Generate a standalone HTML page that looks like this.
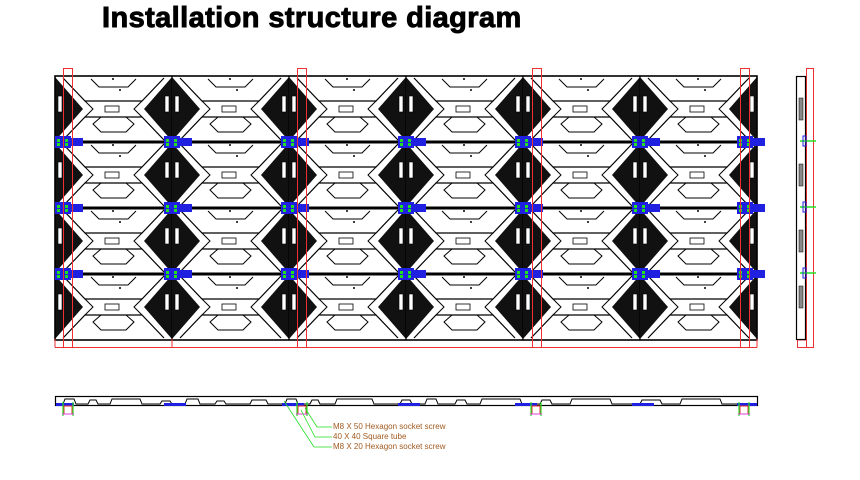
<!DOCTYPE html>
<html><head><meta charset="utf-8"><style>
html,body{margin:0;padding:0;background:#fff;}
body{width:860px;height:480px;overflow:hidden;position:relative;font-family:"Liberation Sans",sans-serif;}
.t{position:absolute;left:102px;top:2px;font-size:29px;font-weight:bold;color:#000;letter-spacing:0.4px;-webkit-text-stroke:0.9px #000;}
</style></head><body>
<div class="t">Installation structure diagram</div>
<svg width="860" height="480" style="position:absolute;left:0;top:0">
<defs>
<symbol id="m" width="117" height="66" viewBox="0 0 117 66" overflow="visible">
<rect x="0" y="0" width="117" height="66" fill="#fff" stroke="#000" stroke-width="1.2"/>
<polygon points="0,1 28,33 0,65" fill="#111"/>
<polygon points="117,1 89,33 117,65" fill="#111"/>
<rect x="3" y="20" width="4" height="16" fill="#fff" stroke="#000" stroke-width="0.6"/>
<rect x="110" y="20" width="4" height="16" fill="#fff" stroke="#000" stroke-width="0.6"/>
<polyline points="8,2 30,25 87,25 109,2" fill="none" stroke="#000" stroke-width="1.2"/>
<polyline points="36,3 44,11 73,11 81,3" fill="none" stroke="#000" stroke-width="1"/>
<polyline points="8,64 30,41 87,41 109,64" fill="none" stroke="#000" stroke-width="1.2"/>
<polygon points="38,48 46,41 71,41 79,48 71,56 46,56" fill="none" stroke="#000" stroke-width="1"/>
<polyline points="30,41 38,33 30,25" fill="none" stroke="#000" stroke-width="1"/>
<polyline points="87,41 79,33 87,25" fill="none" stroke="#000" stroke-width="1"/>
<rect x="50" y="30" width="14" height="6" fill="#fff" stroke="#000" stroke-width="0.8"/>
<circle cx="58" cy="3" r="1" fill="#000"/>
<circle cx="65" cy="14" r="1" fill="#000"/>
</symbol>
<symbol id="c" width="28" height="12" overflow="visible">
<rect x="0" y="0" width="16" height="12" fill="#2020e0"/>
<rect x="16" y="2" width="12" height="8" fill="#2020e0"/>
<rect x="2" y="3" width="3" height="3" fill="#20e020"/><rect x="2" y="7" width="3" height="3" fill="#20e020"/>
<rect x="10" y="3" width="3" height="3" fill="#20e020"/><rect x="10" y="7" width="3" height="3" fill="#20e020"/>
</symbol>
</defs>
<g>
<g id="row">
<use href="#m" x="55" y="76"/><use href="#m" x="172" y="76"/><use href="#m" x="289" y="76"/><use href="#m" x="406" y="76"/><use href="#m" x="523" y="76"/><use href="#m" x="640" y="76"/>
</g>
<use href="#row" y="66"/><use href="#row" y="132"/><use href="#row" y="198"/>
<rect x="55" y="76" width="702" height="264" fill="none" stroke="#000" stroke-width="1.5"/>
<rect x="55" y="140.5" width="702" height="3" fill="#000"/>
<rect x="55" y="206.5" width="702" height="3" fill="#000"/>
<rect x="55" y="272.5" width="702" height="3" fill="#000"/>
<g id="cr">
<use href="#c" x="55" y="136"/><use href="#c" x="164" y="136"/><use href="#c" x="281" y="136"/><use href="#c" x="398" y="136"/><use href="#c" x="515" y="136"/><use href="#c" x="632" y="136"/><use href="#c" x="737" y="136"/>
</g>
<use href="#cr" y="66"/><use href="#cr" y="132"/>
<g fill="none" stroke="#f03030" stroke-width="1">
<rect x="63.5" y="68.5" width="9" height="279"/>
<rect x="297.5" y="68.5" width="9" height="279"/>
<rect x="532.5" y="68.5" width="9" height="279"/>
<rect x="740.5" y="68.5" width="9" height="279"/>
<line x1="55" y1="347.5" x2="757" y2="347.5"/>
<line x1="55" y1="339" x2="55" y2="347.5"/><line x1="757" y1="339" x2="757" y2="347.5"/>
<line x1="172" y1="339" x2="172" y2="347.5"/>
<rect x="806.5" y="68.5" width="7" height="279"/>
<rect x="797.5" y="340" width="9" height="7.5"/>
</g>
<rect x="796.5" y="76.5" width="9" height="263" fill="#fff" stroke="#000" stroke-width="1.2"/>
<g fill="#888" stroke="#000" stroke-width="0.5">
<rect x="799" y="98" width="4" height="22"/><rect x="799" y="164" width="4" height="22"/>
<rect x="799" y="230" width="4" height="22"/><rect x="799" y="286" width="4" height="22"/>
</g>
<g stroke="#20e020" stroke-width="1.5">
<line x1="800" y1="141" x2="816" y2="141"/><line x1="800" y1="207" x2="816" y2="207"/><line x1="800" y1="273" x2="816" y2="273"/>
</g>
<g fill="none" stroke="#2020e0"><rect x="803" y="136" width="3" height="10"/><rect x="803" y="202" width="3" height="10"/><rect x="803" y="268" width="3" height="10"/></g>
<rect x="55.5" y="396.5" width="702" height="9" fill="#fff" stroke="#000" stroke-width="1.2"/>
<polyline points="56,404 63,404 65,399 74,399 76,404 88,404 90,400 96,400 98,404 110,404 112,399 140,399 142,404 160,404 162,401 170,401 172,404 185,404 187,399 198,399 200,404 215,404 217,401 224,401 226,404 250,404 252,400 266,400 268,404 285,404 287,399 296,399 298,404 310,404 312,400 318,400 320,404 335,404 337,399 372,399 374,404 400,404 402,400 410,400 412,404 425,404 427,399 436,399 438,404 455,404 457,400 465,400 467,404 480,404 482,399 520,399 522,404 540,404 542,400 550,400 552,404 570,404 572,399 610,399 612,404 640,404 642,400 660,400 662,404 680,404 682,399 720,399 722,404 756,404" fill="none" stroke="#000" stroke-width="1"/>
<g fill="#2020e0">
<rect x="56" y="403" width="18" height="3"/><rect x="164" y="403" width="22" height="3"/><rect x="282" y="403" width="22" height="3"/><rect x="398" y="403" width="22" height="3"/><rect x="515" y="403" width="22" height="3"/><rect x="632" y="403" width="22" height="3"/><rect x="737" y="403" width="20" height="3"/>
</g>
<g fill="none" stroke="#e03030"><rect x="64" y="406" width="8" height="8"/><rect x="298" y="406" width="8" height="8"/><rect x="532" y="406" width="8" height="8"/><rect x="740" y="406" width="8" height="8"/></g>
<g stroke="#20e020" stroke-width="1.2">
<line x1="63" y1="402" x2="63" y2="416"/><line x1="73" y1="402" x2="73" y2="416"/>
<line x1="297" y1="402" x2="297" y2="416"/><line x1="307" y1="402" x2="307" y2="416"/>
<line x1="531" y1="402" x2="531" y2="416"/><line x1="541" y1="402" x2="541" y2="416"/>
<line x1="739" y1="402" x2="739" y2="416"/><line x1="749" y1="402" x2="749" y2="416"/>
</g>
<g stroke="#e040e0" stroke-width="1"><line x1="62" y1="414" x2="74" y2="414"/><line x1="296" y1="414" x2="308" y2="414"/><line x1="530" y1="414" x2="542" y2="414"/><line x1="738" y1="414" x2="750" y2="414"/></g>
<g fill="none" stroke="#20e020" stroke-width="0.8">
<polyline points="305,408 317,427 332,427"/>
<polyline points="301,410 315,437 332,437"/>
<polyline points="284,401 314,447 332,447"/>
</g>
<g font-family="Liberation Sans, sans-serif" font-size="8" fill="#a05a20">
<text x="333" y="429">M8 X 50  Hexagon socket screw</text>
<text x="333" y="439">40 X 40  Square tube</text>
<text x="333" y="449">M8 X 20  Hexagon socket screw</text>
</g>
</g>
</svg>
</body></html>
